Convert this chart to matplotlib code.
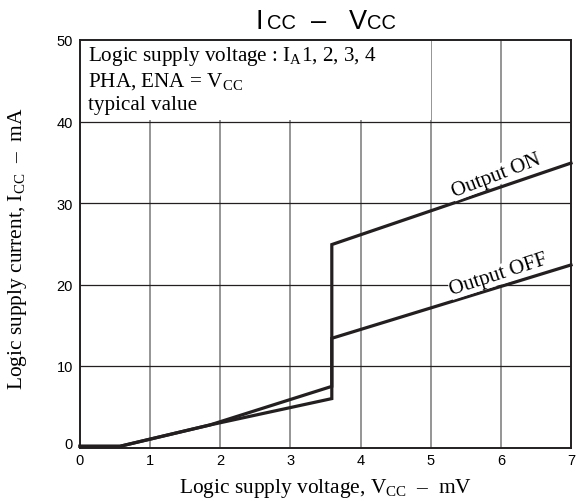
import matplotlib
matplotlib.use("Agg")
import matplotlib.pyplot as plt
import matplotlib.transforms as mtransforms
from matplotlib.patches import Rectangle
from matplotlib.offsetbox import TextArea, HPacker, AnchoredOffsetbox, DrawingArea

plt.rcParams['mathtext.fontset'] = 'custom'
plt.rcParams['mathtext.rm'] = 'Liberation Serif'
plt.rcParams['mathtext.it'] = 'Liberation Serif:italic'
plt.rcParams['mathtext.sf'] = 'Liberation Sans'

# Data
on_v = [0.0, 0.57, 1.85, 3.59, 3.59, 7.0]
on_i = [0.15, 0.15, 2.76, 7.5, 24.9, 34.9]
off_v = [0.0, 0.57, 1.85, 3.59, 3.59, 7.0]
off_i = [0.15, 0.15, 2.76, 6.0, 13.4, 22.4]
xticks = [0, 1, 2, 3, 4, 5, 6, 7]
yticks = [0, 10, 20, 30, 40, 50]

W, H = 576, 502
fig = plt.figure(figsize=(W/100, H/100), dpi=100)
ax_l, ax_r, ax_t, ax_b = 80, 571, 41, 448.5
ax = fig.add_axes([ax_l/W, 1-ax_b/H, (ax_r-ax_l)/W, (ax_b-ax_t)/H])
ax.set_xlim(0, 7)
ax.set_ylim(0, 50)

lc = '#231f20'
serif = 'Liberation Serif'
sans = 'Liberation Sans'

# grid
for x in xticks[1:-1]:
    ax.axvline(x, color='#8c8c8c', lw=1.3, zorder=1)
for y in yticks[1:-1]:
    ax.axhline(y, color=lc, lw=0.9, zorder=1.5)
# white box for note
ax.add_patch(Rectangle((0, 40.15), 5, 9.85, facecolor='white', edgecolor='none', zorder=2))

ax.plot(on_v, on_i, color=lc, lw=2.3, zorder=3, clip_on=False, solid_joinstyle='miter')
ax.plot(off_v, off_i, color=lc, lw=2.3, zorder=3, clip_on=False, solid_joinstyle='miter')

ax.set_xticks(xticks)
ax.set_yticks(yticks)
ax.tick_params(length=0, labelsize=10.5)
ax.tick_params(axis='y', pad=5)
ax.tick_params(axis='x', pad=4)
for lab in ax.get_xticklabels() + ax.get_yticklabels():
    lab.set_fontfamily(sans)
ylabs = ax.get_yticklabels()
ylabs[0].set_transform(ylabs[0].get_transform() + mtransforms.ScaledTranslation(0, 5/100, fig.dpi_scale_trans))

for s in ax.spines.values():
    s.set_linewidth(1.4)
    s.set_color(lc)
    s.set_zorder(4)

note_fs = 15.2
def ay(py):
    return 1 - (py - ax_t) / (ax_b - ax_t)
ax.text((88-ax_l)/(ax_r-ax_l), ay(60.7), r'Logic supply voltage : I$_\mathrm{A}$1, 2, 3, 4', transform=ax.transAxes,
        ha='left', va='baseline', fontsize=note_fs, family=serif, zorder=5)
ax.text((88-ax_l)/(ax_r-ax_l), ay(86.7), r'PHA, ENA = V$_\mathrm{CC}$', transform=ax.transAxes,
        ha='left', va='baseline', fontsize=note_fs, family=serif, zorder=5)
ax.text((88-ax_l)/(ax_r-ax_l), ay(110), 'typical value', transform=ax.transAxes,
        ha='left', va='baseline', fontsize=note_fs, family=serif, zorder=5)

ax.text(5.93, 33.4, 'Output ON', rotation=21, rotation_mode='anchor', ha='center', va='center',
        fontsize=15, family=serif, zorder=5,
        bbox=dict(facecolor='white', edgecolor='none', pad=0.3))
ax.text(5.97, 21.2, 'Output OFF', rotation=18, rotation_mode='anchor', ha='center', va='center',
        fontsize=15, family=serif, zorder=5,
        bbox=dict(facecolor='white', edgecolor='none', pad=0.3))

fig.text((ax_l+ax_r)/2/W, 1-493/H, r'Logic supply voltage, V$_\mathrm{CC}$  –  mV', family=serif,
         fontsize=15.4, ha='center', va='baseline')
fig.text(18/W, 1-249/H, r'Logic supply current, I$_\mathrm{CC}$  –  mA', family=serif,
         fontsize=15.4, ha='center', va='center', rotation=90)

# title: I_CC – V_CC with smaller CC
big = dict(fontsize=19.5, family=sans, color='black')
small = dict(fontsize=14.5, family=sans, color='black')
parts = [TextArea('I', textprops=big), DrawingArea(3, 1), TextArea('CC', textprops=small),
         TextArea('  \u2013   ', textprops=big), TextArea('V', textprops=big),
         TextArea('CC', textprops=small)]
pack = HPacker(children=parts, align='baseline', pad=0, sep=0)
anch = AnchoredOffsetbox(loc='center', child=pack, pad=0, borderpad=0, frameon=False,
                         bbox_to_anchor=((ax_l+ax_r)/2/W, 1-22/H), bbox_transform=fig.transFigure)
fig.add_artist(anch)

fig.savefig('out.png', dpi=100)
